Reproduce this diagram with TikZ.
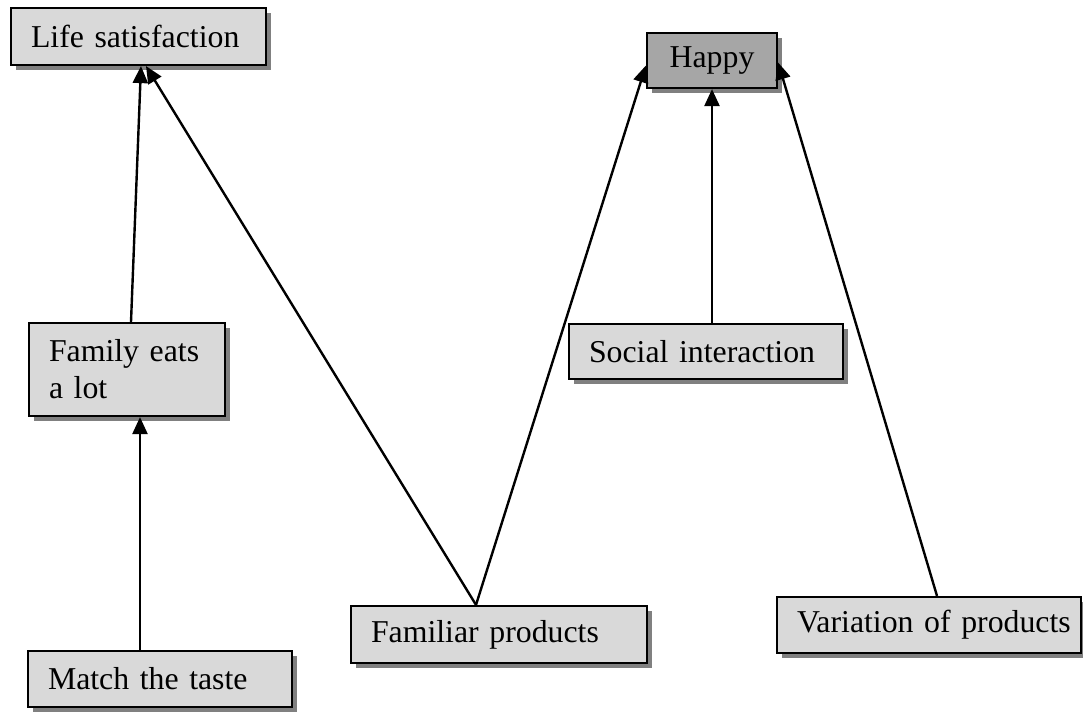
\documentclass[tikz,border=0pt]{standalone}
\usepackage{fontspec}
\setmainfont{Liberation Serif}
\usetikzlibrary{arrows.meta,shadows}
\definecolor{boxfill}{HTML}{D9D9D9}
\definecolor{darkfill}{HTML}{A6A6A6}
\definecolor{shade}{HTML}{808080}
\begin{document}
\begin{tikzpicture}[x=1pt,y=-1pt,
  box/.style={draw=black, line width=2.2pt, fill=boxfill,
    inner xsep=20pt, inner ysep=0pt, align=left,
    font=\fontsize{31.8}{37}\selectfont,
    drop shadow={shadow xshift=5pt, shadow yshift=-5pt, fill=shade, opacity=1}},
  link/.style={line width=2.4pt, -{Triangle[length=17pt,width=15pt]}}]
  \useasboundingbox (0,0) rectangle (1083,712);

  % boxes
  \node[box, text width=215pt, minimum height=57pt] (life) at (138.5,36.5) {\mbox{Life satisfaction}};
  \node[box, fill=darkfill, align=center, inner xsep=0pt, minimum width=130pt, minimum height=55pt] (happy) at (712,60.5) {Happy};
  \node[box, text width=156pt, minimum height=93pt] (family) at (127,369.5) {Family eats\\a lot};
  \node[box, text width=234pt, minimum height=55pt] (social) at (706,351.5) {\mbox{Social interaction}};
  \node[box, text width=224pt, minimum height=56pt] (match) at (160,679) {\mbox{Match the taste}};
  \node[box, text width=256pt, minimum height=57pt] (familiar) at (499,634.5) {\mbox{Familiar products}};
  \node[box, text width=264pt, minimum height=56pt] (variation) at (929,625) {\mbox{Variation of products}};

  % connectors
  \draw[link] ([xshift=-20pt]match.north) -- ([xshift=13pt]family.south);
  \draw[link] ([xshift=4pt]family.north) -- ([xshift=2.5pt]life.south);
  \draw[link] ([xshift=-23pt]familiar.north) -- ([xshift=7.5pt]life.south);
  \draw[link] ([xshift=-23pt]familiar.north) -- ([yshift=-5pt]happy.west);
  \draw[link] ([xshift=6pt]social.north) -- (happy.south);
  \draw[link] ([xshift=8pt]variation.north) -- ([yshift=-2pt]happy.east);
\end{tikzpicture}
\end{document}
